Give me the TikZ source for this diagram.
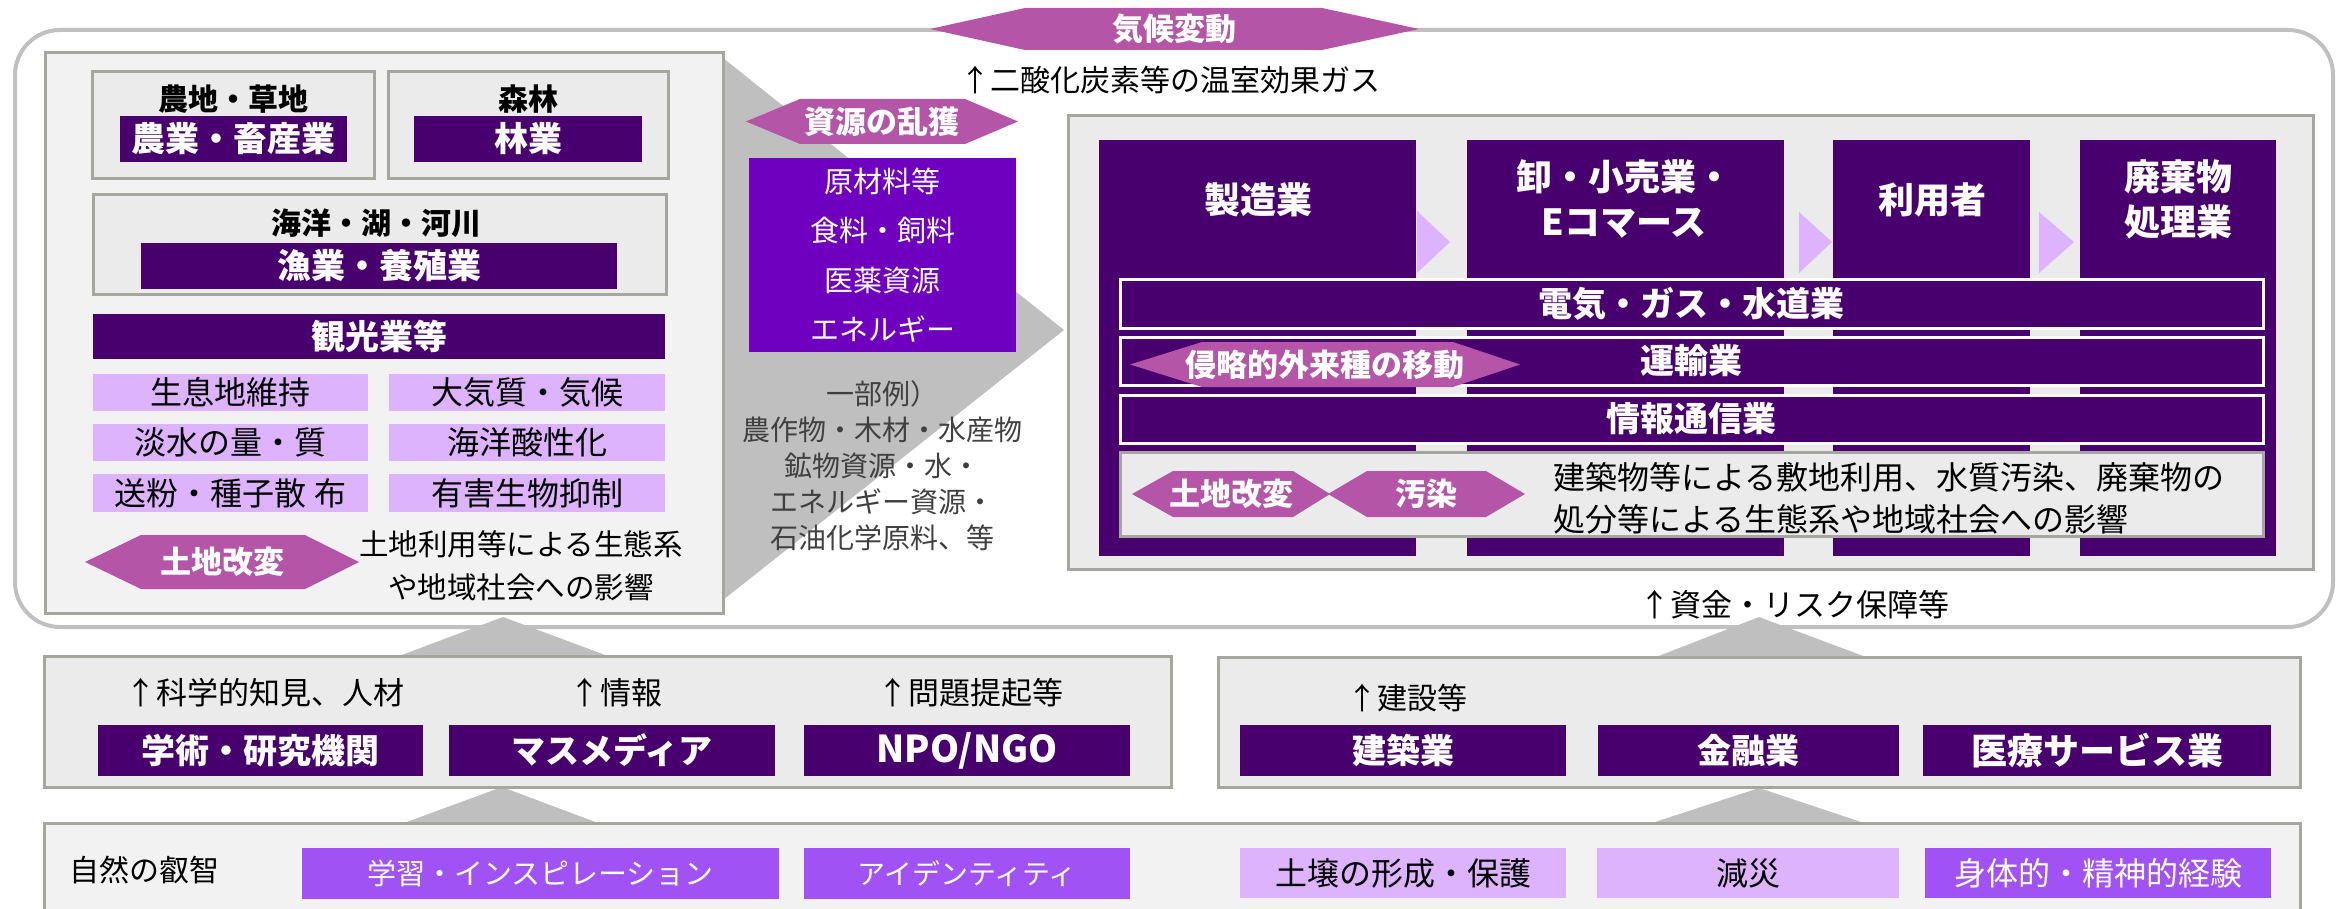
\documentclass[tikz,border=0pt]{standalone}
\usepackage{fontspec}
\setmainfont{Noto Sans CJK JP}
\definecolor{dp}{HTML}{48006E}
\definecolor{mp}{HTML}{7000C0}
\definecolor{hexc}{HTML}{B455A8}
\definecolor{lav}{HTML}{DDB3FD}
\definecolor{mpl}{HTML}{A052F5}
\definecolor{bord}{HTML}{A6A6A0}
\definecolor{outg}{HTML}{C0C0C0}
\definecolor{fung}{HTML}{BFBFBF}
\definecolor{pA}{HTML}{F2F2F2}
\definecolor{pB}{HTML}{EBEBEB}
\definecolor{gtxt}{HTML}{404040}
\newcommand\fs[2]{\fontsize{#1}{#2}\selectfont}
\newcommand\rect[7]{\node[#1,minimum width={#5-#3},minimum height={#6-#4},anchor=north west] (#2) at (#3,#4) {#7};}
\newcommand\hexa[8]{%
  \fill[hexc] (#2,{(#6+#7)/2}) -- (#3,#6) -- (#4,#6) -- (#5,{(#6+#7)/2}) -- (#4,#7) -- (#3,#7) -- cycle;
  \node[hextxt] (#1) at ({(#2+#5)/2},{(#6+#7)/2}) {#8};}
\begin{document}
\begin{tikzpicture}[x=1pt,y=-1pt,
  every node/.style={inner sep=0pt,outer sep=0pt},
  panelA/.style={draw=bord,line width=3pt,fill=pA},
  panelB/.style={draw=bord,line width=3pt,fill=pB},
  dbar/.style={fill=dp,text=white,font=\bfseries\fs{34}{40}},
  wbar/.style={fill=dp,draw=white,line width=3pt,text=white,font=\bfseries\fs{34}{40}},
  colbox/.style={fill=dp,text=white,align=center,font=\bfseries\fs{36}{45}},
  lavbox/.style={fill=lav,text=black,font=\fs{32}{38}},
  mpbox/.style={fill=mpl,text=white,font=\fs{30}{36}},
  hextxt/.style={text=white,font=\bfseries\fs{31}{36}},
  lbl/.style={text=black,font=\fs{30}{36}},
  btitle/.style={text=black,font=\bfseries\fs{30}{36}},
  tri/.style={fill=fung}
]
\useasboundingbox (0,0) rectangle (2339,909);

% outer rounded frame
\draw[outg,line width=4pt,rounded corners=45pt] (15,30) rectangle (2333,627);

% climate change
\hexa{climate}{930}{1025}{1322}{1419}{8}{50}{気候変動}
\node[lbl] (ghg) at (1170,80) {↑二酸化炭素等の温室効果ガス};

% funnel from left panel to right panel
\fill[tri] (700,58) -- (723,58) -- (1064,330) -- (723,600) -- (700,600) -- cycle;

% left panel
\rect{panelA}{left}{45}{53}{723}{613}{}
\rect{panelB}{farm}{92}{72}{374}{179}{}
\node[btitle] (farmt) at (233,99) {農地・草地};
\rect{dbar}{agri}{120}{116}{347}{162}{農業・畜産業}
\rect{panelB}{forest}{388}{72}{668}{179}{}
\node[btitle] (forestt) at (528,99) {森林};
\rect{dbar}{forestry}{414}{116}{642}{162}{林業}
\rect{panelB}{sea}{93}{195}{666}{295}{}
\node[btitle] (seat) at (376,223) {海洋・湖・河川};
\rect{dbar}{fish}{141}{243}{617}{289}{漁業・養殖業}
\rect{dbar}{tour}{93}{314}{665}{359}{観光業等}
\rect{lavbox}{e1}{93}{374}{368}{411}{生息地維持}
\rect{lavbox}{e2}{389}{374}{665}{411}{大気質・気候}
\rect{lavbox}{e3}{93}{424}{368}{461}{淡水の量・質}
\rect{lavbox}{e4}{389}{424}{665}{461}{海洋酸性化}
\rect{lavbox}{e5}{93}{474}{368}{512}{送粉・種子散 布}
\rect{lavbox}{e6}{389}{474}{665}{512}{有害生物抑制}
\hexa{landL}{85}{141}{305}{359}{535}{589}{土地改変}
\node[lbl,align=center,font=\fs{29.5}{43}] (impL) at (521,566) {土地利用等による生態系\\や地域社会への影響};

% middle resources
\hexa{overex}{746}{800}{965}{1018}{99}{144}{資源の乱獲}
\rect{fill=mp,text=white,align=center,font=\fs{29}{49.5}}{res}{749}{158}{1016}{352}{原材料等\\食料・飼料\\医薬資源\\エネルギー}
\node[text=gtxt,align=center,font=\fs{28}{36}] (ex) at (882,466) {一部例）\\農作物・木材・水産物\\鉱物資源・水・\\エネルギー資源・\\石油化学原料、等};

% right panel
\rect{panelB}{right}{1068}{116}{2313}{569}{}
\rect{colbox}{c1}{1099}{140}{1416}{556}{}
\rect{colbox}{c2}{1467}{140}{1784}{556}{}
\rect{colbox}{c3}{1833}{140}{2030}{556}{}
\rect{colbox}{c4}{2080}{140}{2276}{556}{}
\node[colbox,fill=none] (c1t) at (1258,200) {製造業};
\node[colbox,fill=none] (c2t) at (1624,199) {卸・小売業・\\Eコマース};
\node[colbox,fill=none] (c3t) at (1932,200) {利用者};
\node[colbox,fill=none] (c4t) at (2178,199) {廃棄物\\処理業};
\fill[lav] (1417,211) -- (1450,242) -- (1417,273) -- cycle;
\fill[lav] (1799,212) -- (1832,242) -- (1799,273) -- cycle;
\fill[lav] (2039,212) -- (2074,242) -- (2039,273) -- cycle;
\rect{wbar}{util}{1120}{280}{2263}{328}{電気・ガス・水道業}
\rect{wbar}{trans}{1120}{337}{2263}{385}{運輸業}
\rect{wbar}{info}{1120}{395}{2263}{443}{情報通信業}
\hexa{invasive}{1130}{1202}{1453}{1520}{342}{387}{侵略的外来種の移動}
\rect{panelB}{impact}{1120}{452}{2263}{536}{}
\hexa{landR}{1132}{1173}{1293}{1330}{471}{517}{土地改変}
\hexa{poll}{1328}{1367}{1486}{1525}{471}{517}{汚染}
\node[lbl,anchor=west,align=left,font=\fs{32}{42}] (impR) at (1553,498) {建築物等による敷地利用、水質汚染、廃棄物の\\処分等による生態系や地域社会への影響};
\node[lbl,font=\fs{31}{36}] (fund) at (1794,605) {↑資金・リスク保障等};

% upward triangles
\fill[tri] (399,656) -- (503,617) -- (608,656) -- cycle;
\fill[tri] (404,823) -- (502,787) -- (598,823) -- cycle;
\fill[tri] (1656,657) -- (1759,617) -- (1866,657) -- cycle;
\fill[tri] (1652,823) -- (1759,788) -- (1864,823) -- cycle;

% middle left box
\rect{panelB}{midL}{44}{656}{1171}{787}{}
\node[lbl,font=\fs{31}{36}] (sci) at (265,693) {↑科学的知見、人材};
\node[lbl,font=\fs{31}{36}] (infoL) at (616,693) {↑情報};
\node[lbl,font=\fs{31}{36}] (issue) at (970,693) {↑問題提起等};
\rect{dbar}{acad}{98}{725}{423}{776}{学術・研究機関}
\rect{dbar}{media}{449}{725}{775}{776}{マスメディア}
\rect{dbar,font=\bfseries\fs{37}{40}}{ngo}{804}{725}{1130}{776}{NPO/NGO}

% middle right box
\rect{panelB}{midR}{1218}{657}{2300}{787}{}
\node[lbl] (constr) at (1407,698) {↑建設等};
\rect{dbar}{build}{1240}{725}{1566}{776}{建築業}
\rect{dbar}{fin}{1598}{725}{1899}{776}{金融業}
\rect{dbar,font=\bfseries\fs{36}{40}}{med}{1923}{725}{2271}{776}{医療サービス業}

% bottom box
\rect{panelA}{bottom}{44}{823}{2300}{940}{}
\node[lbl,anchor=west] (wisdom) at (69,870) {自然の叡智};
\rect{mpbox,font=\fs{29}{36}}{learn}{302}{848}{779}{899}{学習・インスピレーション}
\rect{mpbox,font=\fs{28}{36}}{ident}{804}{848}{1130}{899}{アイデンティティ}
\rect{lavbox}{soil}{1240}{848}{1566}{898}{土壌の形成・保護}
\rect{lavbox}{disaster}{1597}{848}{1899}{898}{減災}
\rect{mpbox,font=\fs{32}{36}}{body}{1925}{848}{2271}{898}{身体的・精神的経験}
\end{tikzpicture}
\end{document}
